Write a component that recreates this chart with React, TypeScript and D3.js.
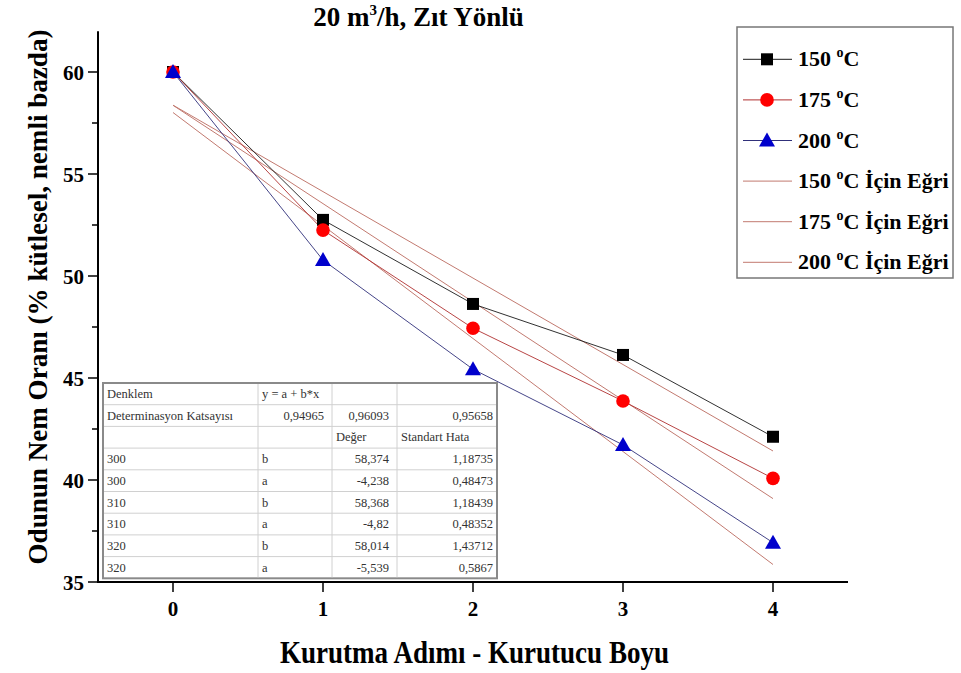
import React from 'react';
import * as d3 from 'd3';

const steps = [0, 1, 2, 3, 4];
const series150 = [60.0, 52.75, 48.63, 46.13, 42.12];
const series175 = [60.0, 52.25, 47.44, 43.87, 40.08];
const series200 = [60.0, 50.78, 45.43, 41.72, 36.93];
const fitIntercepts = [58.374, 58.368, 58.014];
const fitSlopes = [-4.238, -4.82, -5.539];
const yTicks = [35, 40, 45, 50, 55, 60];
const yMinorTicks = [37.5, 42.5, 47.5, 52.5, 57.5];
const xTicks = [0, 1, 2, 3, 4];
const legendTemps = ['150', '175', '200'];

const tableRows: string[][] = [
  ['Denklem', 'y = a + b*x', '', ''],
  ['Determinasyon Katsayısı', '0,94965', '0,96093', '0,95658'],
  ['', '', 'Değer', 'Standart Hata'],
  ['300', 'b', '58,374', '1,18735'],
  ['300', 'a', '-4,238', '0,48473'],
  ['310', 'b', '58,368', '1,18439'],
  ['310', 'a', '-4,82', '0,48352'],
  ['320', 'b', '58,014', '1,43712'],
  ['320', 'a', '-5,539', '0,5867'],
];

const W = 961;
const H = 673;
const FONT = '"Liberation Serif", "Times New Roman", serif';

const x = d3.scaleLinear().domain([-0.5, 4.5]).range([98, 848]);
const y = d3.scaleLinear().domain([35, 62]).range([582, 31.2]);

const seriesList = [
  { vals: series150, color: '#000000', line: '#1a1a1a', shape: 'square' },
  { vals: series175, color: '#ff0000', line: '#b03030', shape: 'circle' },
  { vals: series200, color: '#0000cc', line: '#30307a', shape: 'triangle' },
];
const fitColor = '#c27a70';

function Marker({ shape, cx, cy, color }: { shape: string; cx: number; cy: number; color: string }) {
  if (shape === 'square') return <rect x={cx - 6} y={cy - 6} width={12} height={12} fill={color} />;
  if (shape === 'circle') return <circle cx={cx} cy={cy} r={6.8} fill={color} />;
  return <path d={`M${cx},${cy - 8}L${cx + 8},${cy + 6}L${cx - 8},${cy + 6}Z`} fill={color} />;
}

function DegC({ num, extra }: { num: string; extra?: string }) {
  return (
    <>
      <tspan>{num + ' '}</tspan>
      <tspan fontSize={14} dy={-9}>o</tspan>
      <tspan dy={9}>{'C' + (extra ? ' ' + extra : '')}</tspan>
    </>
  );
}

export default function App() {
  const line = d3
    .line<number>()
    .x((_, i) => x(steps[i]))
    .y((d) => y(d));

  const tblLeft = 103;
  const tblTop = 383;
  const colEdges = [103, 258, 332, 397, 497];
  const rowH = 21.7;
  const tblBottom = tblTop + rowH * tableRows.length;

  const legX = 737;
  const legY = 27;
  const legRow0 = 59.3;
  const legStep = 40.6;

  return (
    <svg
      width={W}
      height={H}
      style={{ position: 'absolute', left: 0, top: 0, display: 'block', background: '#fff' }}
      fontFamily={FONT}
    >
      <rect x={0} y={0} width={W} height={H} fill="#fff" />
      {/* Title */}
      <text x={418.5} y={26} textAnchor="middle" fontSize={27} fontWeight="bold">
        <tspan>20 m</tspan>
        <tspan fontSize={15} dy={-11}>3</tspan>
        <tspan dy={11}>/h, Zıt Yönlü</tspan>
      </text>

      {/* Fit lines */}
      {fitIntercepts.map((a, k) => (
        <line
          key={'fit' + k}
          x1={x(0)}
          y1={y(a)}
          x2={x(4)}
          y2={y(a + fitSlopes[k] * 4)}
          stroke={fitColor}
          strokeWidth={1}
        />
      ))}

      {/* Series lines */}
      {seriesList.map((s, k) => (
        <path key={'l' + k} d={line(s.vals) || ''} fill="none" stroke={s.line} strokeWidth={0.9} />
      ))}

      {/* Markers */}
      {seriesList.map((s, k) =>
        s.vals.map((v, i) => (
          <Marker key={'m' + k + '-' + i} shape={s.shape} cx={x(steps[i])} cy={y(v)} color={s.color} />
        ))
      )}

      {/* Axes */}
      <line x1={98} y1={y(62)} x2={98} y2={582} stroke="#000" strokeWidth={2} />
      <line x1={97} y1={582} x2={848} y2={582} stroke="#000" strokeWidth={2} />
      {yTicks.map((t) => (
        <g key={'yt' + t}>
          <line x1={88} x2={98} y1={y(t)} y2={y(t)} stroke="#000" strokeWidth={1.5} />
          <text x={84} y={y(t) + 7.5} textAnchor="end" fontSize={21} fontWeight="bold">
            {t}
          </text>
        </g>
      ))}
      {yMinorTicks.map((t) => (
        <line key={'ym' + t} x1={92} x2={98} y1={y(t)} y2={y(t)} stroke="#000" strokeWidth={1.5} />
      ))}
      {xTicks.map((t) => (
        <g key={'xt' + t}>
          <line x1={x(t)} x2={x(t)} y1={582} y2={592} stroke="#000" strokeWidth={1.5} />
          <text x={x(t)} y={616} textAnchor="middle" fontSize={21} fontWeight="bold">
            {t}
          </text>
        </g>
      ))}

      {/* Axis titles */}
      <text
        x={474.5}
        y={663}
        textAnchor="middle"
        fontSize={31}
        fontWeight="bold"
        textLength={389}
        lengthAdjust="spacingAndGlyphs"
      >
        Kurutma Adımı - Kurutucu Boyu
      </text>
      <text
        transform="translate(47,297) rotate(-90)"
        textAnchor="middle"
        fontSize={28}
        fontWeight="bold"
        textLength={535}
        lengthAdjust="spacingAndGlyphs"
      >
        Odunun Nem Oranı (% kütlesel, nemli bazda)
      </text>

      {/* Legend */}
      <rect x={legX} y={legY} width={216} height={251} fill="#fff" stroke="#777" strokeWidth={1.5} />
      {legendTemps.map((t, k) => {
        const ly = legRow0 + k * legStep;
        const s = seriesList[k];
        return (
          <g key={'lg' + k}>
            <line x1={743} x2={792} y1={ly} y2={ly} stroke={s.line} strokeWidth={1} />
            <Marker shape={s.shape} cx={767} cy={ly} color={s.color} />
            <text x={798} y={ly + 7} fontSize={22} fontWeight="bold">
              <DegC num={t} />
            </text>
          </g>
        );
      })}
      {legendTemps.map((t, k) => {
        const ly = legRow0 + (k + 3) * legStep;
        return (
          <g key={'lf' + k}>
            <line x1={743} x2={792} y1={ly} y2={ly} stroke={fitColor} strokeWidth={1} />
            <text x={798} y={ly + 7} fontSize={22} fontWeight="bold">
              <DegC num={t} extra="İçin Eğri" />
            </text>
          </g>
        );
      })}

      {/* Table */}
      <rect
        x={tblLeft}
        y={tblTop}
        width={colEdges[4] - tblLeft}
        height={tblBottom - tblTop}
        fill="#fff"
        stroke="#8a8a8a"
        strokeWidth={2}
      />
      {tableRows.slice(1).map((_, r) => (
        <line
          key={'hr' + r}
          x1={tblLeft + 1}
          x2={colEdges[4] - 1}
          y1={tblTop + rowH * (r + 1)}
          y2={tblTop + rowH * (r + 1)}
          stroke="#d0d0d0"
          strokeWidth={1}
        />
      ))}
      {colEdges.slice(1, 4).map((cx, c) => (
        <line key={'vc' + c} x1={cx} x2={cx} y1={tblTop + 1} y2={tblBottom - 1} stroke="#d0d0d0" strokeWidth={1} />
      ))}
      {tableRows.map((row, r) =>
        row.map((cell, c) => {
          if (!cell) return null;
          const isNum = /^-?[0-9]+,[0-9]+$/.test(cell);
          const left = colEdges[c];
          const right = colEdges[c + 1];
          const anchor = isNum ? 'end' : 'start';
          const tx = isNum ? right - (c === 3 ? 4 : 8) : left + 4;
          return (
            <text
              key={'tc' + r + '-' + c}
              x={tx}
              y={tblTop + rowH * r + 15}
              textAnchor={anchor}
              fontSize={12.5}
              fill="#333"
            >
              {cell}
            </text>
          );
        })
      )}
    </svg>
  );
}
